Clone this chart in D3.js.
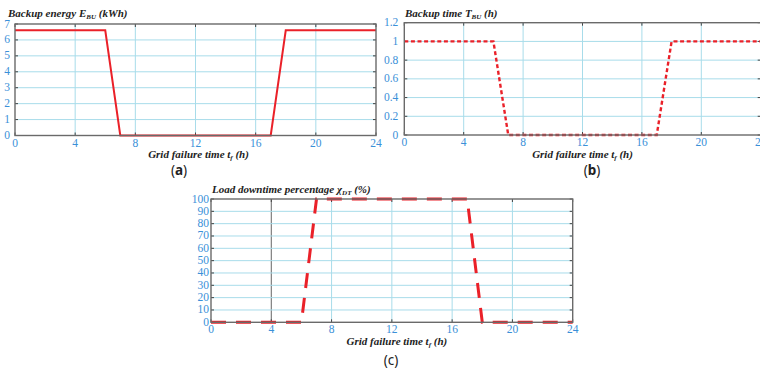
<!DOCTYPE html>
<html>
<head>
<meta charset="utf-8">
<script src="https://cdn.jsdelivr.net/npm/d3@7"></script>
<style>
  html, body { margin: 0; padding: 0; background: #fff; }
  svg { display: block; }
</style>
</head>
<body>
<svg id="fig" width="760" height="371"></svg>
<script>
// Grid failure time (h) at each breakpoint of the piecewise curves
const failureHours = [0, 6, 7, 17, 18, 24];
// (a) backup energy E_BU in kWh
const backupEnergy = [6.6, 6.6, 0, 0, 6.6, 6.6];
// (b) backup time T_BU in h
const backupTime = [1, 1, 0, 0, 1, 1];
// (c) load downtime percentage in %
const downtimePct = [0, 0, 100, 100, 0, 0];

const xTicks = [0, 4, 8, 12, 16, 20, 24];
const yTicksA = [0, 1, 2, 3, 4, 5, 6, 7];
const yTicksB = [0, 0.2, 0.4, 0.6, 0.8, 1, 1.2];
const yTicksC = [0, 10, 20, 30, 40, 50, 60, 70, 80, 90, 100];

const svg = d3.select("#fig");
const RED = "#ea2129";
const GRID = "#a8dcea";
const BOX = "#6a6a6a";
const TICKTXT = "#3a90d8";
const SERIF = '"Liberation Serif", "Times New Roman", serif';

function panel(opt) {
  const g = svg.append("g");
  const x = d3.scaleLinear().domain([0, 24]).range([opt.left, opt.right]);
  const y = d3.scaleLinear().domain(opt.yDomain).range([opt.bottom, opt.top]);

  // grid lines
  g.append("g").selectAll("line").data(xTicks.slice(1, -1)).join("line")
    .attr("x1", d => x(d)).attr("x2", d => x(d))
    .attr("y1", opt.top).attr("y2", opt.bottom)
    .attr("stroke", d => (opt.darkGridX && opt.darkGridX.includes(d)) ? "#555" : GRID)
    .attr("stroke-width", d => (opt.darkGridX && opt.darkGridX.includes(d)) ? 0.9 : 1);
  g.append("g").selectAll("line").data(opt.yTicks.slice(1, -1)).join("line")
    .attr("x1", opt.left).attr("x2", opt.right)
    .attr("y1", d => y(d)).attr("y2", d => y(d))
    .attr("stroke", GRID).attr("stroke-width", 1);

  // inner tick marks on all four sides
  const tk = 3;
  const ticks = g.append("g").attr("stroke", "#444").attr("stroke-width", 1);
  xTicks.forEach(d => {
    ticks.append("line").attr("x1", x(d)).attr("x2", x(d)).attr("y1", opt.bottom).attr("y2", opt.bottom - tk);
    ticks.append("line").attr("x1", x(d)).attr("x2", x(d)).attr("y1", opt.top).attr("y2", opt.top + tk);
  });
  opt.yTicks.forEach(d => {
    ticks.append("line").attr("x1", opt.left).attr("x2", opt.left + tk).attr("y1", y(d)).attr("y2", y(d));
    ticks.append("line").attr("x1", opt.right).attr("x2", opt.right - tk).attr("y1", y(d)).attr("y2", y(d));
  });

  // data curve
  const line = d3.line().x((d, i) => x(failureHours[i])).y(d => y(d));
  g.append("path").datum(opt.values)
    .attr("d", line)
    .attr("fill", "none")
    .attr("stroke", RED)
    .attr("stroke-width", opt.lineWidth)
    .attr("stroke-dasharray", opt.dash || null)
    .attr("stroke-linejoin", "miter");

  // axes box
  g.append("rect")
    .attr("x", opt.left).attr("y", opt.top)
    .attr("width", opt.right - opt.left).attr("height", opt.bottom - opt.top)
    .attr("fill", "none").attr("stroke", BOX).attr("stroke-width", 1.4);

  // tick labels
  g.append("g").selectAll("text").data(xTicks).join("text")
    .style("font-family", SERIF)
    .attr("x", d => x(d)).attr("y", opt.bottom + 11)
    .attr("text-anchor", "middle")
    .attr("font-size", 11.5).attr("fill", TICKTXT)
    .text(d => d);
  g.append("g").selectAll("text").data(opt.yTicks).join("text")
    .style("font-family", SERIF)
    .attr("x", opt.left - opt.yLabelGap).attr("y", d => y(d) + 3.5)
    .attr("text-anchor", "end")
    .attr("font-size", 11.5).attr("fill", TICKTXT)
    .text(d => d);

  // title with subscript
  const t = g.append("text")
    .style("font-family", SERIF)
    .attr("x", opt.titleX).attr("y", opt.titleY)
    .attr("font-size", 11)
    .attr("font-weight", "bold").attr("font-style", "italic").attr("fill", "#222");
  t.append("tspan").text(opt.title[0]);
  t.append("tspan").attr("font-size", 7).attr("dy", 2).text(opt.title[1]);
  t.append("tspan").attr("dy", -2).text(opt.title[2]);

  // x-axis title
  const xt = g.append("text")
    .style("font-family", SERIF)
    .attr("x", (opt.left + opt.right) / 2 + opt.xTitleShift).attr("y", opt.bottom + 22.5)
    .attr("text-anchor", "middle")
    .attr("font-size", 11)
    .attr("font-weight", "bold").attr("font-style", "italic").attr("fill", "#222");
  xt.append("tspan").text("Grid failure time t");
  xt.append("tspan").attr("font-size", 7).attr("dy", 2).text("f");
  xt.append("tspan").attr("dy", -2).text(" (h)");

  // panel letter
  svg.append("text")
    .attr("x", opt.letterX).attr("y", opt.letterY)
    .attr("text-anchor", "middle")
    .style("font-family", '"Noto Sans", sans-serif').attr("font-size", 13.5)
    .attr("fill", "#222")
    .html(opt.letter);
}

panel({
  left: 15, right: 376, top: 24, bottom: 135.5,
  yDomain: [0, 7], yTicks: yTicksA, yLabelGap: 5,
  values: backupEnergy, lineWidth: 2,
  title: ["Backup energy E", "BU", " (kWh)"], titleX: 8, titleY: 17,
  xTitleShift: 3, letter: "(<tspan font-weight='bold'>a</tspan>)", letterX: 179, letterY: 175
});

panel({
  left: 404.3, right: 760.7, top: 22.7, bottom: 135,
  yDomain: [0, 1.2], yTicks: yTicksB, yLabelGap: 6,
  values: backupTime, lineWidth: 2.4, dash: "4,2.6",
  title: ["Backup time T", "BU", " (h)"], titleX: 405, titleY: 17,
  xTitleShift: 0, letter: "(<tspan font-weight='bold'>b</tspan>)", letterX: 592, letterY: 175
});

panel({
  left: 211, right: 572.7, top: 199, bottom: 322.3,
  yDomain: [0, 100], yTicks: yTicksC, yLabelGap: 2,
  values: downtimePct, lineWidth: 3, dash: "15,10", darkGridX: [4],
  title: ["Load downtime percentage \u03C7", "DT", " (%)"], titleX: 212, titleY: 193,
  xTitleShift: 5, letter: "(c)", letterX: 391, letterY: 365
});
</script>
</body>
</html>
